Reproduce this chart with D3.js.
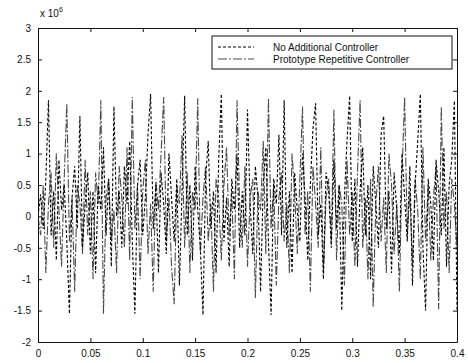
<!DOCTYPE html>
<html><head><meta charset="utf-8">
<script src="https://cdn.jsdelivr.net/npm/d3@7"></script>
<style>body{margin:0;background:#fff}svg{display:block}text{font-family:"Liberation Sans",Arial,sans-serif;fill:#111}</style>
</head><body><svg id="c" width="468" height="363"></svg>
<script>
const dt = 0.0025;
const seriesNames = ["No Additional Controller", "Prototype Repetitive Controller"];
const xTicks = [0, 0.05, 0.1, 0.15, 0.2, 0.25, 0.3, 0.35, 0.4];
const xTickLabels = ["0", "0.05", "0.1", "0.15", "0.2", "0.25", "0.3", "0.35", "0.4"];
const yTicks = [-2, -1.5, -1, -0.5, 0, 0.5, 1, 1.5, 2, 2.5, 3];
const yTickLabels = ["-2", "-1.5", "-1", "-0.5", "0", "0.5", "1", "1.5", "2", "2.5", "3"];
const noController = [
 0.0, 0.35, -0.2, 0.6, 1.85, -0.3, 0.4, -0.7, 0.9, 0.1,
 0.5, -0.4, -1.55, 0.3, 0.8, -0.2, 1.6, -0.5, 0.2, 0.7,
 -0.6, 0.4, -0.9, 0.5, 0.1, 1.1, -0.3, 0.6, -0.8, 1.75,
 0.0, 0.4, -0.5, 0.8, 0.2, 1.2, -0.4, -1.55, 0.5, 0.9,
 -0.3, 0.3, 1.3, 1.95, -0.2, 0.5, -0.9, 0.7, 0.2, -0.6,
 1.0, 0.3, -0.4, 0.6, -1.1, 0.4, 1.92, -0.3, 0.5, -0.7,
 0.8, 0.1, -0.5, -1.57, 0.6, 1.2, -0.2, 0.4, -0.9, 0.9,
 1.95, -0.4, 0.3, -0.8, 0.6, 0.1, 1.0, -0.5, 0.4, -0.3,
 1.7, 0.2, -0.6, 0.8, 0.3, -1.2, 0.5, 1.1, -0.4, -1.57,
 0.6, 0.2, 1.3, -0.3, 1.85, -0.5, 0.4, -0.9, 0.7, 0.1,
 -0.4, 1.0, 0.3, -0.7, 0.5, 1.4, 1.8, -0.3, 0.2, -1.0,
 0.7, 0.4, -0.5, 0.9, -0.2, 0.5, -1.5, 0.3, 1.2, 1.92,
 -0.4, 0.6, -0.8, 0.4, 1.1, -0.3, 0.5, -1.0, 0.8, 0.2,
 -0.5, 1.3, 1.6, -0.2, 0.4, -0.9, 0.7, 0.1, -0.6, 1.0,
 0.3, -0.4, 0.8, -1.1, 0.5, 1.2, 1.95, -0.5, -1.5, 0.6,
 0.2, -0.7, 0.9, 0.4, -0.3, 1.1, -0.8, 0.5, 0.9, 1.84,
 -1.5];
const repetitive = [
 0.0, -0.3, 0.5, -0.9, 0.2, 0.7, -0.5, 1.0, 0.1, -0.8,
 0.6, 1.8, -0.4, 0.3, -1.2, 0.5, 0.2, -0.6, 0.9, -0.3,
 0.4, -1.0, 0.7, 0.2, 1.85, -1.55, 0.3, 0.6, -0.4, 0.1,
 -0.9, 0.8, 0.3, -0.5, 1.1, -0.7, 1.9, -0.2, 0.5, -1.0,
 0.4, 0.9, -0.6, 0.2, -1.2, 0.6, 0.1, 1.0, 1.9, -0.4,
 0.3, -0.8, -1.4, 0.5, 0.2, 1.3, -0.5, 0.7, -0.9, 0.4,
 0.1, 1.88, -0.6, 0.3, 0.8, -0.4, 0.2, -1.2, 0.6, 0.3,
 -0.7, 0.5, 1.1, -0.3, 0.4, -1.0, 1.85, 0.2, -0.5, 0.8,
 -0.8, 0.3, 0.6, -1.3, 0.4, 0.1, 1.2, -0.6, 1.88, -0.2,
 0.5, -1.1, 0.3, 0.7, -0.4, 0.2, -0.9, 1.0, 0.4, -0.6,
 0.6, 1.75, -0.3, 0.4, -1.2, 0.8, 0.2, -0.5, 1.1, -0.9,
 0.3, 0.6, -0.4, 1.7, -0.7, 0.5, 0.2, -1.1, 0.9, -0.3,
 0.4, -0.8, 0.7, 1.85, -0.5, 0.3, -1.0, 0.6, -1.45, 0.2,
 0.8, -0.4, 0.3, -0.9, 1.0, 0.5, -0.6, 0.2, -1.2, 0.7,
 1.9, -0.3, 0.4, -0.8, 0.6, 0.1, -1.0, 1.1, -0.4, 0.5,
 -0.7, 0.3, 0.8, -1.48, 1.75, -0.2, 0.4, -0.9, 0.6, 0.2,
 -0.5];

const svg = d3.select("#c");
const L = 38, R = 457, T = 28, B = 342;
const x = d3.scaleLinear().domain([0, 0.4]).range([L, R]);
const y = d3.scaleLinear().domain([-2, 3]).range([B, T]);

const line = d3.line().x((d, i) => x(i * dt)).y(d => y(d));
svg.append("clipPath").attr("id", "pc").append("rect")
  .attr("x", L).attr("y", T).attr("width", R - L).attr("height", B - T);
const g = svg.append("g").attr("clip-path", "url(#pc)");
const dashes = ["3,2", "9,2,2,2"];
const cols = ["#000", "#4a4a4a"];
g.append("path").datum(repetitive).attr("d", line).attr("fill", "none")
  .attr("stroke", cols[1]).attr("stroke-width", 1.1).attr("stroke-dasharray", dashes[1]);
g.append("path").datum(noController).attr("d", line).attr("fill", "none")
  .attr("stroke", cols[0]).attr("stroke-width", 1.1).attr("stroke-dasharray", dashes[0]);

// axes (MATLAB box with inward ticks)
const fmtX = (d, i) => xTickLabels[i];
const fmtY = (d, i) => yTickLabels[i];
const ax = svg.append("g").attr("transform", `translate(0,${B})`)
  .call(d3.axisBottom(x).tickValues(xTicks).tickFormat(fmtX).tickSizeInner(-4).tickSizeOuter(0).tickPadding(8));
const axT = svg.append("g").attr("transform", `translate(0,${T})`)
  .call(d3.axisTop(x).tickValues(xTicks).tickFormat("").tickSizeInner(-4).tickSizeOuter(0));
const ay = svg.append("g").attr("transform", `translate(${L},0)`)
  .call(d3.axisLeft(y).tickValues(yTicks).tickFormat(fmtY).tickSizeInner(-4).tickSizeOuter(0).tickPadding(7));
const ayR = svg.append("g").attr("transform", `translate(${R},0)`)
  .call(d3.axisRight(y).tickValues(yTicks).tickFormat("").tickSizeInner(-4).tickSizeOuter(0));
[ax, axT, ay, ayR].forEach(a => {
  a.selectAll(".domain").attr("stroke", "#111");
  a.selectAll(".tick line").attr("stroke", "#111");
  a.selectAll("text").attr("font-size", 10).attr("fill", "#111")
    .attr("font-family", "'Liberation Sans', Arial, sans-serif");
});

// exponent label
const ex = svg.append("text").attr("x", 40).attr("y", 17).attr("font-size", 10);
ex.append("tspan").text("x 10");
ex.append("tspan").attr("dy", -5).attr("font-size", 7).text("6");

// legend
const lg = svg.append("g");
lg.append("rect").attr("x", 212).attr("y", 36).attr("width", 240).attr("height", 33)
  .attr("fill", "#fff").attr("stroke", "#111").attr("stroke-width", 1);
seriesNames.forEach((n, i) => {
  const yy = 47 + i * 12;
  lg.append("line").attr("x1", 218).attr("x2", 254).attr("y1", yy).attr("y2", yy)
    .attr("stroke", cols[i]).attr("stroke-dasharray", dashes[i]);
  lg.append("text").attr("x", 273).attr("y", yy + 4).attr("font-size", 10).text(n);
});
</script></body></html>
